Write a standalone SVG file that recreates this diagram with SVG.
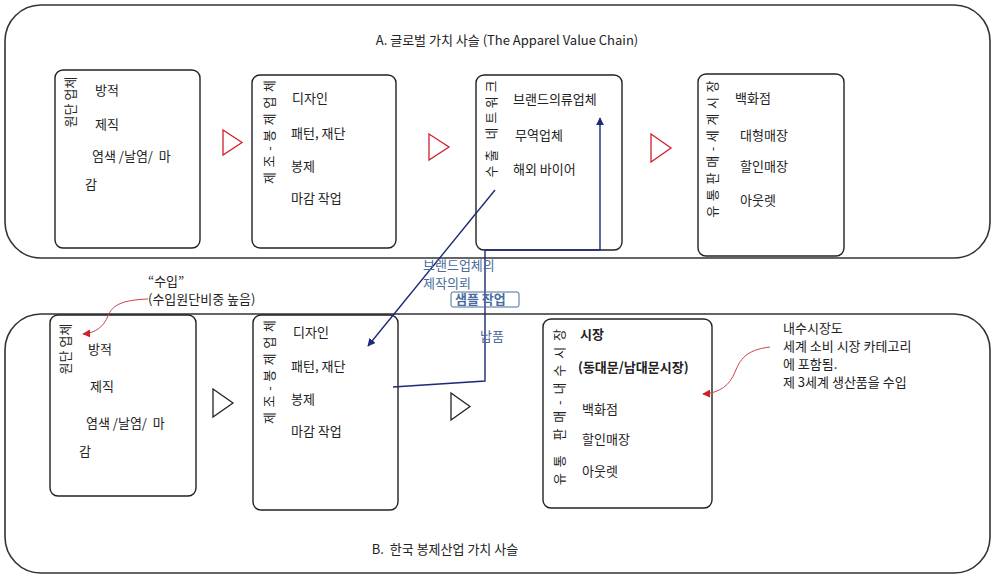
<svg xmlns="http://www.w3.org/2000/svg" width="994" height="576" viewBox="0 0 994 576">
<defs>
<style>
text{font-family:"Noto Sans CJK KR","Noto Sans",sans-serif;fill:#222;font-size:13px;white-space:pre}
.frame{fill:#fff;stroke:#333;stroke-width:1.6}
.box{fill:#fff;stroke:#222;stroke-width:1.4}
.vt{dominant-baseline:central;text-anchor:middle}
.tri-r{fill:#fff;stroke:#d0202a;stroke-width:1.3}
.tri-k{fill:#fff;stroke:#222;stroke-width:1.3}
.blue{stroke:#1c2a78;stroke-width:1.4;fill:none}
.red{stroke:#d04050;stroke-width:1;fill:none}
.bl{fill:#4a6d9c}
.b{font-weight:bold}
</style>
<marker id="ab" viewBox="0 0 10 10" refX="9" refY="5" markerWidth="8" markerHeight="8" orient="auto" markerUnits="userSpaceOnUse"><path d="M0,0 L10,5 L0,10 z" fill="#1c2a78"/></marker>
<marker id="ar" viewBox="0 0 10 10" refX="9" refY="5" markerWidth="8" markerHeight="8" orient="auto" markerUnits="userSpaceOnUse"><path d="M0,0 L10,5 L0,10 z" fill="#d0202a"/></marker>
</defs>
<rect width="994" height="576" fill="#fff"/>

<g id="frameA">
<rect class="frame" x="5" y="5" width="985" height="253" rx="36"/>
<text x="507" y="45" text-anchor="middle" font-size="14">A. 글로벌 가치 사슬 (The Apparel Value Chain)</text>
</g>
<g id="frameB">
<rect class="frame" x="5" y="314" width="985" height="259" rx="36"/>
<text x="445" y="554" text-anchor="middle" font-size="14" xml:space="preserve">B.  한국 봉제산업 가치 사슬</text>
</g>

<g id="a1">
<rect class="box" x="55" y="70" width="145" height="178" rx="8"/>
<text class="vt" transform="translate(69,102) rotate(-90)">원단 업체</text>
<text x="95" y="95">방적</text>
<text x="95" y="129">제직</text>
<text x="92" y="161" xml:space="preserve">염색 /날염/  마</text>
<text x="85" y="189">감</text>
</g>
<g id="a2">
<rect class="box" x="252" y="75" width="144" height="173" rx="8"/>
<text class="vt" transform="translate(268,132) rotate(-90)" textLength="104" lengthAdjust="spacing">제조-봉제업체</text>
<text x="292" y="103">디자인</text>
<text x="291" y="138">패턴, 재단</text>
<text x="291" y="171">봉제</text>
<text x="291" y="203">마감 작업</text>
</g>
<g id="a3">
<rect class="box" x="476" y="75" width="146" height="175" rx="8"/>
<text class="vt" transform="translate(490,129) rotate(-90)" textLength="97" lengthAdjust="spacing">수출 네트워크</text>
<text x="513" y="104">브랜드의류업체</text>
<text x="515" y="140">무역업체</text>
<text x="513" y="174">해외 바이어</text>
</g>
<g id="a4">
<rect class="box" x="698" y="74" width="146" height="182" rx="8"/>
<text class="vt" transform="translate(711,149) rotate(-90)" textLength="137" lengthAdjust="spacing">유통판매-세계시장</text>
<text x="735" y="103">백화점</text>
<text x="740" y="140">대형매장</text>
<text x="740" y="171">할인매장</text>
<text x="740" y="205">아웃렛</text>
</g>

<g id="b1">
<rect class="box" x="50" y="315" width="146" height="181" rx="8"/>
<text class="vt" transform="translate(64,349) rotate(-90)">원단 업체</text>
<text x="88" y="354">방적</text>
<text x="90" y="391">제직</text>
<text x="86" y="428" xml:space="preserve">염색 /날염/  마</text>
<text x="79" y="456">감</text>
</g>
<g id="b2">
<rect class="box" x="253" y="315" width="145" height="195" rx="8"/>
<text class="vt" transform="translate(268,372) rotate(-90)" textLength="104" lengthAdjust="spacing">제조-봉제업체</text>
<text x="293" y="337">디자인</text>
<text x="291" y="371">패턴, 재단</text>
<text x="291" y="404">봉제</text>
<text x="291" y="436">마감 작업</text>
</g>
<g id="b3">
<rect class="box" x="543" y="319" width="169" height="189" rx="8"/>
<text class="vt" transform="translate(558,407) rotate(-90)" textLength="156" lengthAdjust="spacing">유통 판매-내수시장</text>
<text class="b" x="580" y="339">시장</text>
<text class="b" x="578" y="372">(동대문/남대문시장)</text>
<text x="582" y="414">백화점</text>
<text x="582" y="444">할인매장</text>
<text x="582" y="476">아웃렛</text>
</g>

<g id="arrows">
<path class="tri-r" d="M223,130 L242,142.5 L223,155 z"/>
<path class="tri-r" d="M429,134 L449,147 L429,160 z"/>
<path class="tri-r" d="M651,134 L671,148 L651,162 z"/>
<path class="tri-k" d="M213,389 L233,403 L213,417 z"/>
<path class="tri-k" d="M451,393 L470,406.5 L451,420 z"/>
</g>

<g id="connectors">
<path class="blue" d="M495,190 L368,346" marker-end="url(#ab)"/>
<path class="blue" d="M393,387 L485,381 L485,250 L600,250 L600,118" marker-end="url(#ab)"/>
<path class="red" d="M148,299 C120,300 112,306 108,316 C104,326 96,333 83,334" marker-end="url(#ar)"/>
<path class="red" d="M770,347 C745,350 740,360 735,372 C730,385 720,393 703,394" marker-end="url(#ar)"/>
</g>

<g id="labels">
<text class="bl" x="423" y="270" font-size="11">브랜드업체의</text>
<text class="bl" x="423" y="288" font-size="11">제작의뢰</text>
<rect x="451" y="292" width="68" height="15" rx="2" fill="none" stroke="#4a6d9c" stroke-width="1"/>
<text class="bl b" x="455" y="304" font-size="12">샘플 작업</text>
<text class="bl" x="480" y="341" font-size="12">납품</text>
<text x="148" y="286" font-size="12">“수입”</text>
<text x="148" y="304" font-size="12">(수입원단비중 높음)</text>
<text x="783" y="333" font-size="11.5">내수시장도</text>
<text x="783" y="351" font-size="11.5">세계 소비 시장 카테고리</text>
<text x="783" y="369" font-size="11.5">에 포함됨.</text>
<text x="783" y="387" font-size="11.5">제 3세계 생산품을 수입</text>
</g>
</svg>
